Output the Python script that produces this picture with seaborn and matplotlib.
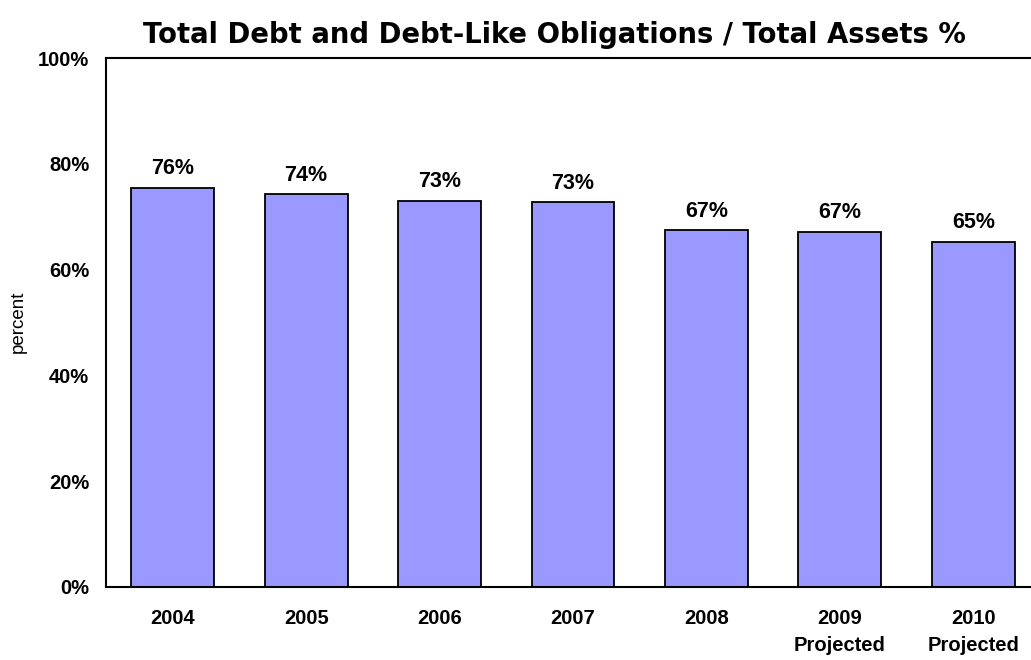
import matplotlib
matplotlib.use("Agg")
import matplotlib.pyplot as plt
import seaborn as sns
import pandas as pd

categories = ["2004", "2005", "2006", "2007", "2008", "2009\nProjected", "2010\nProjected"]
values = [75.5, 74.2, 73.0, 72.8, 67.5, 67.2, 65.3]
value_labels = ["76%", "74%", "73%", "73%", "67%", "67%", "65%"]
yticks = [0, 20, 40, 60, 80, 100]
ytick_labels = ["0%", "20%", "40%", "60%", "80%", "100%"]

sns.set_theme(style="white")
plt.rcParams['font.family'] = ['Liberation Sans', 'DejaVu Sans']
plt.rcParams['text.color'] = 'black'
plt.rcParams['xtick.color'] = 'black'
plt.rcParams['ytick.color'] = 'black'
plt.rcParams['axes.labelcolor'] = 'black'

df = pd.DataFrame({"year": categories, "value": values})

fig = plt.figure(figsize=(10.31, 6.6), dpi=100)
ax = fig.add_axes([106/1031, (660-587)/660, (1040-106)/1031, (587-58)/660])

sns.barplot(data=df, x="year", y="value", color="#9999FF", saturation=1,
            width=0.62, edgecolor="black", linewidth=1.3, ax=ax)

ax.set_ylim(0, 100)
ax.set_xlim(-0.5, len(categories) - 0.5)
ax.set_yticks(yticks)
ax.set_yticklabels(ytick_labels, fontsize=14.5, fontweight="bold")
ax.tick_params(axis="y", length=0, pad=12)
ax.tick_params(axis="x", length=0, pad=16)
for lab in ax.get_xticklabels():
    lab.set_fontsize(14.5)
    lab.set_fontweight("bold")
    lab.set_linespacing(1.5)
ax.set_xlabel("")
ax.set_ylabel("")
fig.text(18/1031, 1 - 322/660, "percent", rotation=90, ha="center", va="center",
         fontsize=13.5, color="black")

for i, (v, t) in enumerate(zip(values, value_labels)):
    ax.annotate(t, (i, v), xytext=(0, 6), textcoords="offset points",
                ha="center", va="bottom", fontsize=15.5, fontweight="bold",
                color="black")

for s in ax.spines.values():
    s.set_color("black")
    s.set_linewidth(1.5)
    s.set_visible(True)

fig.text(554/1031, 1 - 35/660, "Total Debt and Debt-Like Obligations / Total Assets %",
         ha="center", va="center", fontsize=19.8, fontweight="heavy",
         family=["DejaVu Sans"], color="black")

fig.savefig("out.png", dpi=100)
